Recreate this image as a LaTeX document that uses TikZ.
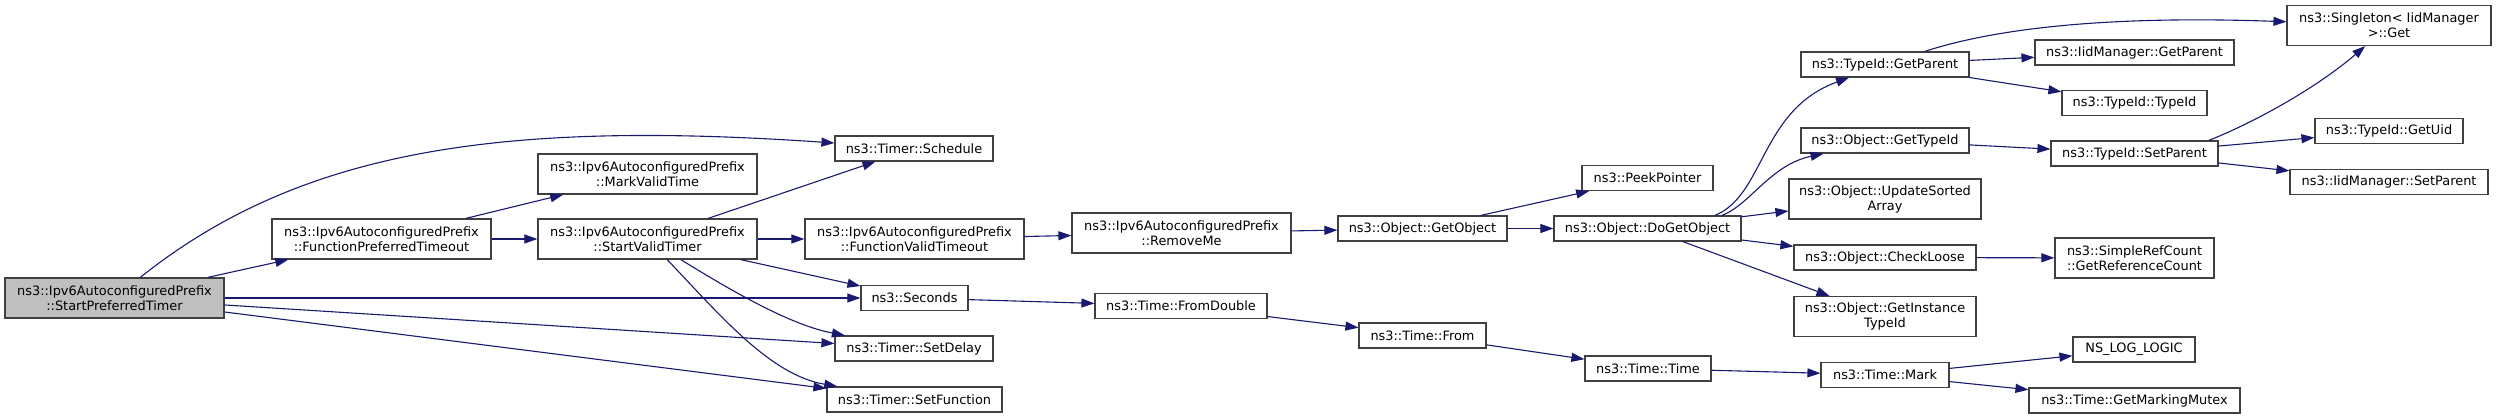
\documentclass[tikz,border=0pt]{standalone}
\usepackage{fontspec}
\setmainfont{DejaVu Sans}
\usetikzlibrary{arrows.meta,calc}
\definecolor{Edge}{HTML}{191970}
\definecolor{Border}{HTML}{404040}
\definecolor{RootFill}{HTML}{BFBFBF}
\tikzset{
  call/.style={draw=Border,line width=1.2pt,fill=white,minimum height=25pt,inner xsep=2pt,inner ysep=0pt,align=center,text=black,font=\fontsize{12.9}{15}\selectfont},
  calltwo/.style={call,minimum height=40pt},
  callroot/.style={calltwo,fill=RootFill},
  arrow/.style={-{Triangle[length=13pt,width=9pt]},line width=1.1pt,draw=Edge}
}
\begin{document}
\begin{tikzpicture}[x=1pt,y=-1pt]
\useasboundingbox (0,0) rectangle (2496,419);
% caller and first level
\node[callroot,minimum width=219pt] (spt) at (114.5,298) {ns3::Ipv6AutoconfiguredPrefix\\::StartPreferredTimer};
\node[calltwo,minimum width=219pt] (fpt) at (381.5,239) {ns3::Ipv6AutoconfiguredPrefix\\::FunctionPreferredTimeout};
\node[calltwo,minimum width=219pt] (mvt) at (647.5,174) {ns3::Ipv6AutoconfiguredPrefix\\::MarkValidTime};
\node[calltwo,minimum width=219pt] (svt) at (647.5,239) {ns3::Ipv6AutoconfiguredPrefix\\::StartValidTimer};
% timer column
\node[call,minimum width=158pt] (sched) at (914,148.5) {ns3::Timer::Schedule};
\node[calltwo,minimum width=219pt] (fvt) at (914.5,239) {ns3::Ipv6AutoconfiguredPrefix\\::FunctionValidTimeout};
\node[call,minimum width=107pt] (sec) at (914.5,298) {ns3::Seconds};
\node[call,minimum width=158pt] (sdelay) at (914,348.5) {ns3::Timer::SetDelay};
\node[call,minimum width=175pt] (sfunc) at (914.5,399.5) {ns3::Timer::SetFunction};
% object and time
\node[calltwo,minimum width=219pt] (rm) at (1181.5,233) {ns3::Ipv6AutoconfiguredPrefix\\::RemoveMe};
\node[call,minimum width=172pt] (fdbl) at (1181,306) {ns3::Time::FromDouble};
\node[call,minimum width=169pt] (getobj) at (1422.5,228.5) {ns3::Object::GetObject};
\node[call,minimum width=127pt] (from) at (1422.5,335.5) {ns3::Time::From};
\node[call,minimum width=131pt] (peek) at (1647.5,178) {ns3::PeekPointer};
\node[call,minimum width=187pt] (dgo) at (1647.5,228.5) {ns3::Object::DoGetObject};
\node[call,minimum width=126pt] (ttime) at (1648,368.5) {ns3::Time::Time};
\node[call,minimum width=168pt] (tgp) at (1885,64.5) {ns3::TypeId::GetParent};
\node[call,minimum width=168pt] (ogt) at (1885,140.5) {ns3::Object::GetTypeId};
\node[calltwo,minimum width=192pt] (usa) at (1885,199) {ns3::Object::UpdateSorted\\Array};
\node[call,minimum width=182pt] (cl) at (1885,257.5) {ns3::Object::CheckLoose};
\node[calltwo,minimum width=182pt] (gitid) at (1885,316.5) {ns3::Object::GetInstance\\TypeId};
\node[call,minimum width=128pt] (mark) at (1885,375) {ns3::Time::Mark};
% last columns
\node[call,minimum width=199pt] (igp) at (2134.5,52.5) {ns3::IidManager::GetParent};
\node[call,minimum width=145pt] (tti) at (2134.5,103) {ns3::TypeId::TypeId};
\node[call,minimum width=167pt] (tsp) at (2134.5,153.5) {ns3::TypeId::SetParent};
\node[calltwo,minimum width=159pt] (src) at (2134.5,258) {ns3::SimpleRefCount\\::GetReferenceCount};
\node[call,minimum width=122pt] (nslog) at (2134,349.5) {NS\_LOG\_LOGIC};
\node[call,minimum width=211pt] (gmm) at (2134.5,400.5) {ns3::Time::GetMarkingMutex};
\node[calltwo,minimum width=204pt] (sing) at (2389,25.5) {ns3::Singleton< IidManager\\ >::Get};
\node[call,minimum width=148pt] (guid) at (2389,131) {ns3::TypeId::GetUid};
\node[call,minimum width=198pt] (isp) at (2389,182) {ns3::IidManager::SetParent};
% calls
\draw[arrow] (spt) .. controls (300,150) and (500,120) .. (sched);
\draw[arrow] (spt)--(fpt);\draw[arrow] (spt)--(sec);\draw[arrow] (spt)--(sdelay);\draw[arrow] (spt)--(sfunc);
\draw[arrow] (fpt)--(mvt);\draw[arrow] (fpt)--(svt);
\draw[arrow] (svt)--(sched);\draw[arrow] (svt)--(fvt);\draw[arrow] (svt)--(sec);
\draw[arrow] (svt) .. controls (730,290) and (790,325) .. (sdelay);
\draw[arrow] (svt) .. controls (720,315) and (770,375) .. (sfunc);
\draw[arrow] (fvt)--(rm);\draw[arrow] (rm)--(getobj);\draw[arrow] (sec)--(fdbl);
\draw[arrow] (getobj)--(peek);\draw[arrow] (getobj)--(dgo);
\draw[arrow] (fdbl)--(from);\draw[arrow] (from)--(ttime);\draw[arrow] (ttime)--(mark);
\draw[arrow] (dgo.11) .. controls (1765,195) and (1760,110) .. (tgp);
\draw[arrow] (dgo.10) .. controls (1750,205) and (1770,165) .. (ogt);
\draw[arrow] (dgo)--(usa);\draw[arrow] (dgo)--(cl);\draw[arrow] (dgo)--(gitid);
\draw[arrow] (tgp) .. controls (1990,30) and (2100,15) .. (sing);
\draw[arrow] (tgp)--(igp);\draw[arrow] (tgp)--(tti);
\draw[arrow] (ogt)--(tsp);
\draw[arrow] (tsp.10) .. controls (2260,120) and (2320,85) .. (sing);
\draw[arrow] (tsp)--(guid);\draw[arrow] (tsp)--(isp);
\draw[arrow] (cl)--(src);
\draw[arrow] (mark)--(nslog);\draw[arrow] (mark)--(gmm);
\end{tikzpicture}
\end{document}
